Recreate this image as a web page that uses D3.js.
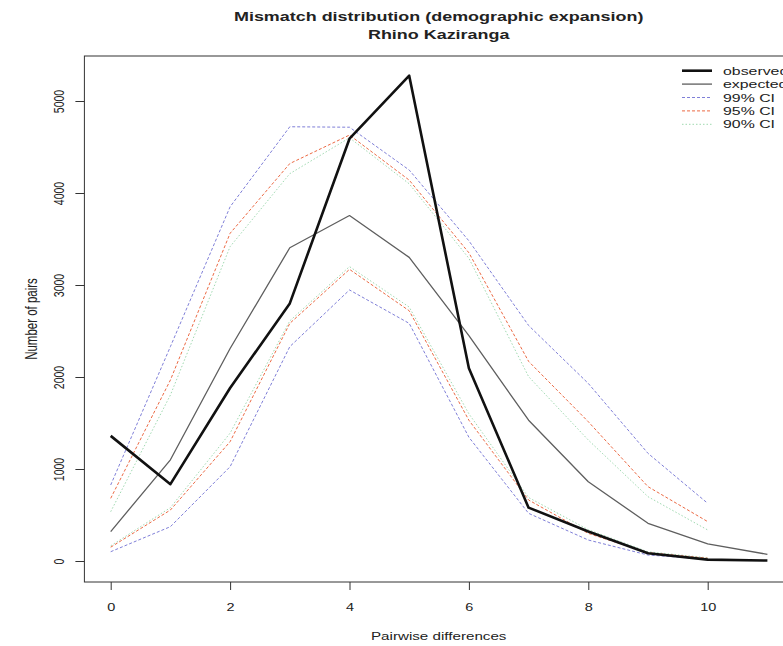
<!DOCTYPE html>
<html>
<head>
<meta charset="utf-8">
<script src="https://cdn.jsdelivr.net/npm/d3@7"></script>
<style>
  body { margin: 0; background: #fff; }
  svg { display: block; }
</style>
</head>
<body>
<script>
// pairwise differences
const diffs = [0, 1, 2, 3, 4, 5, 6, 7, 8, 9, 10, 11];
const ciDiffs = [0, 1, 2, 3, 4, 5, 6, 7, 8, 9, 10];

const observed = [1360, 835, 1880, 2800, 4590, 5275, 2095, 580, 320, 85, 15, 5];
const expected = [320, 1100, 2310, 3405, 3755, 3300, 2450, 1530, 862, 410, 185, 72];

const ci99Upper = [826, 2330, 3850, 4720, 4715, 4250, 3480, 2560, 1930, 1170, 627];
const ci95Upper = [681, 1967, 3562, 4320, 4630, 4140, 3350, 2170, 1514, 808, 428];
const ci90Upper = [536, 1804, 3417, 4210, 4600, 4100, 3290, 2004, 1315, 699, 337];
const ci90Lower = [165, 580, 1390, 2610, 3200, 2760, 1600, 690, 340, 100, 35];
const ci95Lower = [150, 554, 1297, 2583, 3170, 2720, 1530, 663, 300, 90, 30];
const ci99Lower = [101, 373, 1025, 2330, 2946, 2583, 1345, 518, 228, 65, 20];

const xTicks = [0, 2, 4, 6, 8, 10];
const yTicks = [0, 1000, 2000, 3000, 4000, 5000];

const legendLabels = ["observed", "expected", "99% CI", "95% CI", "90% CI"];

const w = 783, h = 646;
const sx = 1.38; // the picture is stretched sideways
const ink = "#222";
const col99 = "#7f7fd8", col95 = "#ec6a44", col90 = "#9fd9b0";

const box = { left: 84.4, right: 793, top: 56, bottom: 582 };

const x = d3.scaleLinear().domain([0, 11]).range([110.7, 767.4]);
const y = d3.scaleLinear().domain([0, 5000]).range([561, 101]);

const svg = d3.select("body").append("svg").attr("width", w).attr("height", h);

const stretchedText = function(parent, str, px, py, opts) {
  opts = opts || {};
  return parent.append("text")
    .attr("transform", "translate(" + px + "," + py + ") scale(" + sx + ",1)" + (opts.rotate ? " rotate(-90)" : ""))
    .attr("text-anchor", opts.anchor || "middle")
    .attr("dy", "0.35em")
    .attr("font-family", "'Liberation Sans', Arial, sans-serif")
    .attr("font-size", (opts.size || 11) + "px")
    .attr("font-weight", opts.bold ? "bold" : "normal")
    .attr("fill", ink)
    .text(str);
};

// titles
const cx = (box.left + box.right) / 2;
stretchedText(svg, "Mismatch distribution (demographic expansion)", cx, 16, { size: 13, bold: true });
stretchedText(svg, "Rhino Kaziranga", cx, 34, { size: 13, bold: true });
stretchedText(svg, "Pairwise differences", cx, 636, { size: 11 });
stretchedText(svg, "Number of pairs", 31, (box.top + box.bottom) / 2, { size: 11.5, rotate: true });

// box
svg.append("rect")
  .attr("x", box.left).attr("y", box.top)
  .attr("width", box.right - box.left).attr("height", box.bottom - box.top)
  .attr("fill", "none").attr("stroke", "#333").attr("stroke-width", 1);

// axes
const xAxis = svg.append("g")
  .attr("transform", "translate(0," + box.bottom + ")")
  .call(d3.axisBottom(x).tickValues(xTicks).tickSize(8).tickSizeOuter(0));
xAxis.select(".domain").remove();
xAxis.selectAll("line").attr("stroke", "#333");
xAxis.selectAll("text")
  .attr("y", null).attr("dy", "0.35em")
  .attr("transform", "translate(0,25) scale(" + sx + ",1)")
  .attr("font-family", "'Liberation Sans', Arial, sans-serif")
  .attr("font-size", "10.5px").attr("fill", ink);

const yAxis = svg.append("g")
  .attr("transform", "translate(" + box.left + ",0)")
  .call(d3.axisLeft(y).tickValues(yTicks).tickSize(9).tickSizeOuter(0).tickFormat(d3.format("d")));
yAxis.select(".domain").remove();
yAxis.selectAll("line").attr("stroke", "#333");
yAxis.selectAll("text")
  .attr("x", null).attr("dy", "0.35em")
  .attr("text-anchor", "middle")
  .attr("transform", "translate(-25,0) scale(" + sx + ",1) rotate(-90)")
  .attr("font-family", "'Liberation Sans', Arial, sans-serif")
  .attr("font-size", "10.5px").attr("fill", ink);

// lines
const plot = svg.append("g");
const line = d3.line().x(d => x(d[0])).y(d => y(d[1]));

const series = [
  { xs: ciDiffs, vals: ci90Upper, color: col90, width: 1, dash: "1.5,2" },
  { xs: ciDiffs, vals: ci90Lower, color: col90, width: 1, dash: "1.5,2" },
  { xs: ciDiffs, vals: ci95Upper, color: col95, width: 1, dash: "3,2" },
  { xs: ciDiffs, vals: ci95Lower, color: col95, width: 1, dash: "3,2" },
  { xs: ciDiffs, vals: ci99Upper, color: col99, width: 1, dash: "3,2" },
  { xs: ciDiffs, vals: ci99Lower, color: col99, width: 1, dash: "3,2" },
  { xs: diffs, vals: expected, color: "#5e5e5e", width: 1.3, dash: null },
  { xs: diffs, vals: observed, color: "#111", width: 2.6, dash: null }
];

plot.selectAll("path")
  .data(series)
  .enter()
  .append("path")
    .attr("d", s => line(s.xs.map((v, i) => [v, s.vals[i]])))
    .attr("fill", "none")
    .attr("stroke", s => s.color)
    .attr("stroke-width", s => s.width)
    .attr("stroke-dasharray", s => s.dash)
    .attr("stroke-linejoin", "round");

// legend
const legendStyles = [
  { color: "#111", width: 2.6, dash: null },
  { color: "#5e5e5e", width: 1.3, dash: null },
  { color: col99, width: 1, dash: "3,2" },
  { color: col95, width: 1, dash: "3,2" },
  { color: col90, width: 1, dash: "1.5,2" }
];
const legend = svg.append("g");
legendLabels.forEach((lab, i) => {
  const ly = 70.7 + i * 13.4;
  legend.append("line")
    .attr("x1", 682).attr("x2", 712).attr("y1", ly).attr("y2", ly)
    .attr("stroke", legendStyles[i].color)
    .attr("stroke-width", legendStyles[i].width)
    .attr("stroke-dasharray", legendStyles[i].dash);
  stretchedText(legend, lab, 723, ly, { size: 11.5, anchor: "start" });
});
</script>
</body>
</html>
